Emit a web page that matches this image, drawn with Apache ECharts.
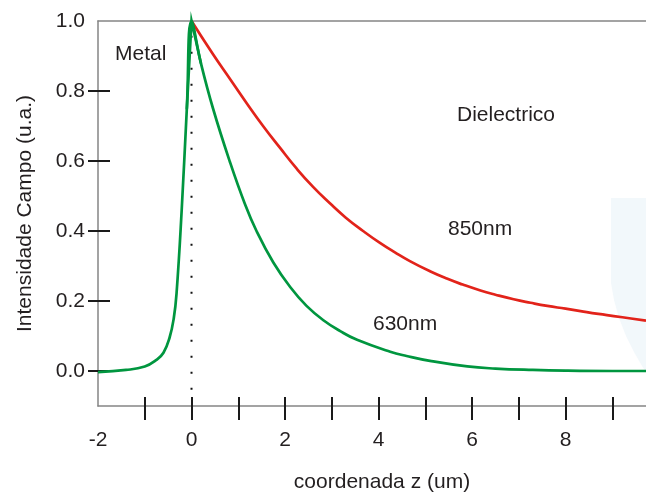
<!DOCTYPE html>
<html>
<head>
<meta charset="utf-8">
<script src="https://cdn.jsdelivr.net/npm/echarts@6/dist/echarts.min.js"></script>
<style>html,body{margin:0;padding:0;background:#fff}#c{width:646px;height:492px}</style>
</head>
<body>
<div id="c"></div>
<script>
// ---- data ----
const xTickValues = [-1, 0, 1, 2, 3, 4, 5, 6, 7, 8, 9];
const xLabelValues = [-2, 0, 2, 4, 6, 8];
const yTickValues = [0, 0.2, 0.4, 0.6, 0.8];
const yLabelValues = [0, 0.2, 0.4, 0.6, 0.8, 1.0];

const series850nm = [
  [0, 1.0], [0.46, 0.905], [0.82, 0.835], [1.18, 0.765], [1.53, 0.700],
  [1.89, 0.638], [2.25, 0.578], [2.6, 0.526], [2.96, 0.479], [3.3, 0.438], [3.67, 0.400],
  [4.03, 0.366], [4.35, 0.339], [4.67, 0.314], [5.1, 0.285], [5.46, 0.264], [5.8, 0.247],
  [6.18, 0.230], [6.5, 0.218], [6.89, 0.205], [7.25, 0.195], [7.61, 0.186], [8.0, 0.178],
  [8.32, 0.171], [8.7, 0.163], [9.03, 0.157], [9.4, 0.150], [9.72, 0.144]
];

const series630nm = [
  [-2, -0.003], [-1.4, 0.003], [-1.0, 0.013], [-0.75, 0.032],
  [-0.6, 0.052], [-0.47, 0.095], [-0.38, 0.15], [-0.32, 0.222],
  [-0.21, 0.46], [-0.1, 0.75], [0, 1.0], [0, 1.0],
  [0.2, 0.88], [0.46, 0.75], [0.82, 0.598],
  [1.14, 0.478], [1.39, 0.400], [1.75, 0.310],
  [2.11, 0.240], [2.46, 0.186], [2.82, 0.145],
  [3.18, 0.114], [3.54, 0.089], [4.25, 0.055], [4.6, 0.043],
  [5.1, 0.029], [5.9, 0.013], [6.5, 0.007], [7.3, 0.003], [8.0, 0.001],
  [9.0, 0.0], [9.72, 0.0]
];

const interfaceLine = [[0, 0.958], [0, -0.054]];

const annotations = [
  { text: 'Metal', x: 115, y: 54 },
  { text: 'Dielectrico', x: 457, y: 115 },
  { text: '850nm', x: 448, y: 229 },
  { text: '630nm', x: 373, y: 324 }
];

// ---- chart ----
const FONT = '"Liberation Sans", Arial, Helvetica, sans-serif';
const TXT = '#231f20';
const AXIS_GRAY = '#858585';
const TICK = '#1a1a1a';
const RED = '#e2231a';
const GREEN = '#00963f';
const XMIN = -2, XMAX = 9.72, YMIN = -0.1, YMAX = 1.0;

// points around the sharp peak of the 630nm curve (drawn unsmoothed so the tip stays pointed)
const peakIdx = series630nm.findIndex(p => p[0] === 0);
const peak630 = [series630nm[peakIdx - 1], series630nm[peakIdx], series630nm[peakIdx + 2]];

const chart = echarts.init(document.getElementById('c'), null, { renderer: 'canvas' });

const option = {
  backgroundColor: '#ffffff',
  animation: false,
  grid: { left: 98, right: 0, top: 21, bottom: 86, containLabel: false, outerBoundsMode: 'none' },
  xAxis: [
    {
      type: 'value', min: XMIN, max: XMAX, position: 'bottom',
      axisLine: { show: true, onZero: false, lineStyle: { color: AXIS_GRAY, width: 1.5 } },
      axisTick: { show: true, inside: false, length: 14, customValues: xTickValues, lineStyle: { color: TICK, width: 2 } },
      axisLabel: { customValues: xLabelValues, margin: 24, fontSize: 21, color: TXT, fontFamily: FONT },
      splitLine: { show: false },
      name: 'coordenada z (um)', nameLocation: 'middle', nameGap: 66,
      nameTextStyle: { fontSize: 21, color: TXT, fontFamily: FONT, padding: [0, 0, 0, 20] }
    },
    {
      type: 'value', min: XMIN, max: XMAX, position: 'bottom',
      axisLine: { show: false, onZero: false },
      axisTick: { show: true, inside: true, length: 9, customValues: xTickValues, lineStyle: { color: TICK, width: 2 } },
      axisLabel: { show: false }, splitLine: { show: false }
    },
    {
      type: 'value', min: XMIN, max: XMAX, position: 'top',
      axisLine: { show: true, onZero: false, lineStyle: { color: AXIS_GRAY, width: 1.5 } },
      axisTick: { show: false }, axisLabel: { show: false }, splitLine: { show: false }
    }
  ],
  yAxis: [
    {
      type: 'value', min: YMIN, max: YMAX, position: 'left',
      axisLine: { show: true, onZero: false, lineStyle: { color: AXIS_GRAY, width: 1.5 } },
      axisTick: { show: true, inside: false, length: 10, customValues: yTickValues, lineStyle: { color: TICK, width: 2 } },
      axisLabel: { customValues: yLabelValues, margin: 13, fontSize: 21, color: TXT, fontFamily: FONT,
        formatter: v => Number(v).toFixed(1) },
      splitLine: { show: false },
      name: 'Intensidade Campo (u.a.)', nameLocation: 'middle', nameGap: 62,
      nameTextStyle: { fontSize: 21, color: TXT, fontFamily: FONT }
    },
    {
      type: 'value', min: YMIN, max: YMAX, position: 'left',
      axisLine: { show: false, onZero: false },
      axisTick: { show: true, inside: true, length: 12, customValues: yTickValues, lineStyle: { color: TICK, width: 2 } },
      axisLabel: { show: false }, splitLine: { show: false }
    }
  ],
  graphic: [
    {
      type: 'polygon', z: -1, silent: true,
      shape: { points: [[611, 198], [646, 198], [646, 372], [642, 366], [634, 352], [626, 336], [619, 318], [614, 300], [611, 283]] },
      style: { fill: '#f2f8fb', stroke: null }
    }
  ].concat(annotations.map(a => ({
    type: 'text', silent: true, z: 10,
    style: { text: a.text, x: a.x, y: a.y, fill: TXT, font: '21px ' + FONT, verticalAlign: 'middle', align: 'left' }
  }))),
  series: [
    {
      name: 'interface', type: 'line', data: interfaceLine, symbol: 'none', silent: true,
      lineStyle: { color: '#111', width: 2, type: [2, 14], cap: 'butt' }, z: 1
    },
    {
      name: '850nm', type: 'line', data: series850nm, symbol: 'none', smooth: 0.5, clip: false,
      lineStyle: { color: RED, width: 2.7, join: 'round' }, z: 2
    },
    {
      name: '630nm', type: 'line', data: series630nm, symbol: 'none', smooth: 0.45, clip: false,
      lineStyle: { color: GREEN, width: 2.7, join: 'round' }, z: 3
    },
    {
      name: '630nm peak', type: 'line', data: peak630, symbol: 'none', smooth: false, clip: false, silent: true,
      lineStyle: { color: GREEN, width: 2.7, join: 'miter', miterLimit: 20, cap: 'round' }, z: 4
    }
  ]
};

chart.setOption(option);
</script>
</body>
</html>
